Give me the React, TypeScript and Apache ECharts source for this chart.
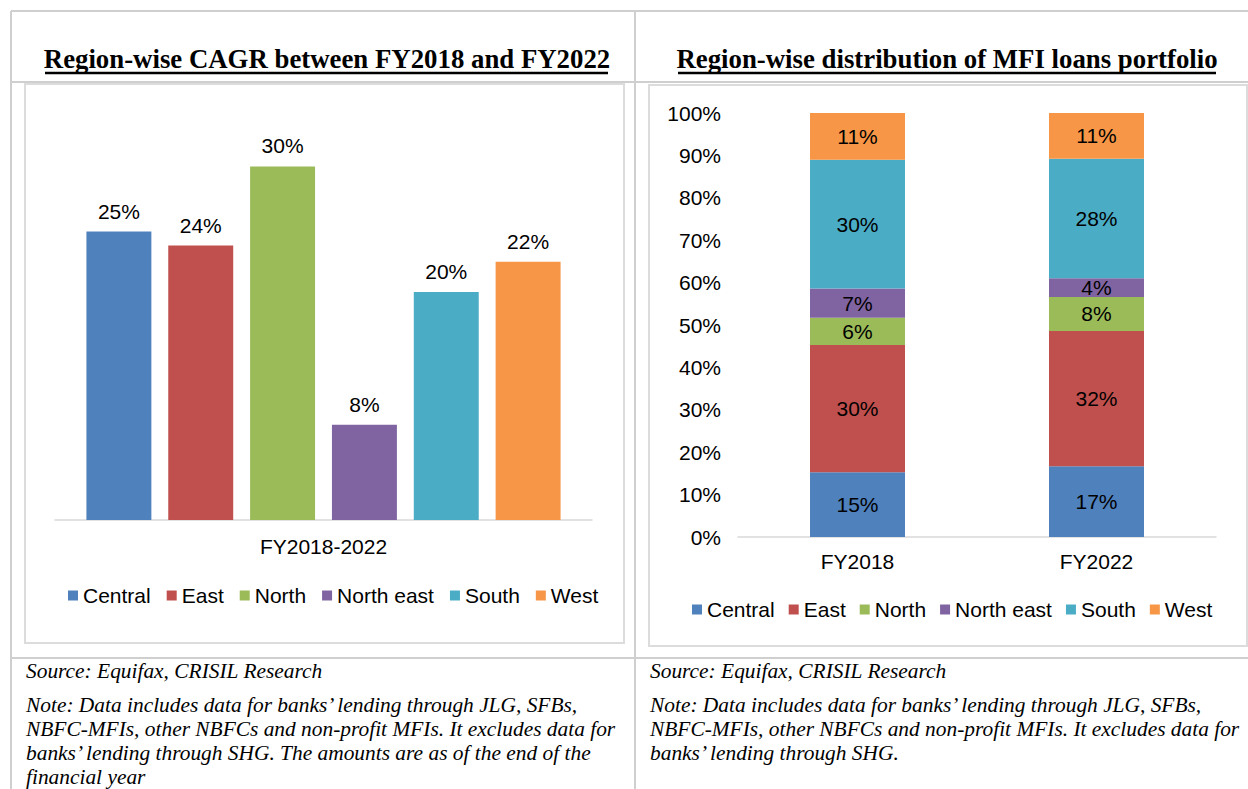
import React, { useEffect, useRef } from "react";
import * as echarts from "echarts";

const regions = ["Central", "East", "North", "North east", "South", "West"];
const colors = ["#4F81BD", "#C0504D", "#9BBB59", "#8064A2", "#4BACC6", "#F79646"];

const cagrCategory = ["FY2018-2022"];
const cagrValues = [24.8, 23.6, 30.4, 8.2, 19.6, 22.2];

const years = ["FY2018", "FY2022"];
const shareCentral = [15.3, 16.7];
const shareEast = [30.0, 31.9];
const shareNorth = [6.4, 8.0];
const shareNorthEast = [6.9, 4.4];
const shareSouth = [30.4, 28.2];
const shareWest = [11.0, 10.8];
const shares = [shareCentral, shareEast, shareNorth, shareNorthEast, shareSouth, shareWest];

const title1 = "Region-wise CAGR between FY2018 and FY2022";
const title2 = "Region-wise distribution of MFI loans portfolio";
const source = "Source: Equifax, CRISIL Research";
const note1 = [
  "Note: Data includes data for banks\u2019 lending through JLG, SFBs,",
  "NBFC-MFIs, other NBFCs and non-profit MFIs. It excludes data for",
  "banks\u2019 lending through SHG. The amounts are as of the end of the",
  "financial year",
];
const note2 = [
  "Note: Data includes data for banks\u2019 lending through JLG, SFBs,",
  "NBFC-MFIs, other NBFCs and non-profit MFIs. It excludes data for",
  "banks\u2019 lending through SHG.",
];

const SANS = "Liberation Sans, Arial, sans-serif";
const SERIF = "Liberation Serif, Times New Roman, serif";
const FS = 21;

export default function App() {
  const ref = useRef<HTMLDivElement>(null);
  useEffect(() => {
    if (!ref.current) return;
    const chart = echarts.init(ref.current, undefined, { renderer: "svg" });
    const tableLine = "#cfcfcf";
    const boxLine = "#dcdcdc";
    const noteFont = `italic 21.4px ${SERIF}`;
    const titleFont = `bold 26.8px ${SERIF}`;
    const graphic: any[] = [
      { type: "line", shape: { x1: 11, y1: 11, x2: 1248, y2: 11 }, style: { stroke: tableLine, lineWidth: 2 } },
      { type: "line", shape: { x1: 11, y1: 11, x2: 11, y2: 789 }, style: { stroke: tableLine, lineWidth: 2 } },
      { type: "line", shape: { x1: 635, y1: 11, x2: 635, y2: 789 }, style: { stroke: tableLine, lineWidth: 2 } },
      { type: "line", shape: { x1: 11, y1: 82, x2: 1248, y2: 82 }, style: { stroke: tableLine, lineWidth: 2 } },
      { type: "line", shape: { x1: 11, y1: 658, x2: 1248, y2: 658 }, style: { stroke: tableLine, lineWidth: 2 } },
      { type: "rect", shape: { x: 25, y: 84, width: 599, height: 559 }, style: { fill: "#fff", stroke: boxLine, lineWidth: 2 }, z: -10 },
      { type: "rect", shape: { x: 649, y: 85, width: 598, height: 561 }, style: { fill: "#fff", stroke: boxLine, lineWidth: 2 }, z: -10 },
      { type: "text", x: 327, y: 59, style: { text: title1, font: titleFont, fill: "#000", align: "center", verticalAlign: "middle" } },
      { type: "line", shape: { x1: 45, y1: 73, x2: 608, y2: 73 }, style: { stroke: "#000", lineWidth: 2.5 } },
      { type: "text", x: 947, y: 59, style: { text: title2, font: titleFont, fill: "#000", align: "center", verticalAlign: "middle" } },
      { type: "line", shape: { x1: 678, y1: 73, x2: 1216, y2: 73 }, style: { stroke: "#000", lineWidth: 2.5 } },
      { type: "text", x: 26, y: 671, style: { text: source, font: noteFont, fill: "#000", verticalAlign: "middle" } },
      { type: "text", x: 650, y: 671, style: { text: source, font: noteFont, fill: "#000", verticalAlign: "middle" } },
    ];
    note1.forEach((t, i) =>
      graphic.push({ type: "text", x: 26, y: 705 + i * 24, style: { text: t, font: noteFont, fill: "#000", verticalAlign: "middle" } })
    );
    note2.forEach((t, i) =>
      graphic.push({ type: "text", x: 650, y: 705 + i * 24, style: { text: t, font: noteFont, fill: "#000", verticalAlign: "middle" } })
    );

    const leftSeries = regions.map((name, i) => ({
      name,
      type: "bar",
      xAxisIndex: 0,
      yAxisIndex: 0,
      data: [cagrValues[i]],
      itemStyle: { color: colors[i] },
      barGap: "26%",
      barCategoryGap: "11.7%",
      label: {
        show: true,
        position: "top",
        distance: 10,
        fontSize: FS,
        fontFamily: SANS,
        color: "#000",
        formatter: (p: any) => Math.round(p.value) + "%",
      },
    }));
    const rightSeries = regions.map((name, i) => ({
      name,
      type: "bar",
      stack: "share",
      xAxisIndex: 1,
      yAxisIndex: 1,
      data: shares[i],
      barWidth: 95,
      itemStyle: { color: colors[i] },
      label: {
        show: true,
        position: "inside",
        fontSize: FS,
        fontFamily: SANS,
        color: "#000",
        formatter: (p: any) => Math.round(p.value) + "%",
      },
    }));

    const legendCommon = {
      data: regions,
      icon: "rect",
      itemWidth: 10,
      itemHeight: 10,
      textStyle: { fontSize: FS, fontFamily: SANS, color: "#000" },
      selectedMode: false,
    };

    chart.setOption({
      animation: false,
      backgroundColor: "#fff",
      textStyle: { fontFamily: SANS },
      graphic,
      legend: [
        { ...legendCommon, itemGap: 16, left: 63, top: 580 },
        { ...legendCommon, itemGap: 14, left: 687, top: 594 },
      ],
      grid: [
        { left: 55, right: 1248 - 592, top: 113, bottom: 789 - 520, containLabel: false },
        { left: 738, right: 1248 - 1216, top: 113, bottom: 789 - 537, containLabel: false },
      ],
      xAxis: [
        {
          type: "category",
          gridIndex: 0,
          data: cagrCategory,
          axisLine: { lineStyle: { color: "#d9d9d9", width: 1.5 } },
          axisTick: { show: false },
          axisLabel: { fontSize: FS, color: "#000", fontFamily: SANS, margin: 16 },
        },
        {
          type: "category",
          gridIndex: 1,
          data: years,
          axisLine: { lineStyle: { color: "#d9d9d9", width: 1.5 } },
          axisTick: { show: false },
          axisLabel: { fontSize: FS, color: "#000", fontFamily: SANS, margin: 14 },
        },
      ],
      yAxis: [
        { type: "value", gridIndex: 0, min: 0, max: 35, show: false },
        {
          type: "value",
          gridIndex: 1,
          min: 0,
          max: 100,
          interval: 10,
          axisLine: { show: false },
          axisTick: { show: false },
          splitLine: { show: false },
          axisLabel: { fontSize: FS, color: "#000", fontFamily: SANS, margin: 17, formatter: "{value}%" },
        },
      ],
      series: [...leftSeries, ...rightSeries],
    });
    return () => chart.dispose();
  }, []);
  return <div ref={ref} style={{ position: "fixed", left: 0, top: 0, width: 1248, height: 789 }} />;
}
